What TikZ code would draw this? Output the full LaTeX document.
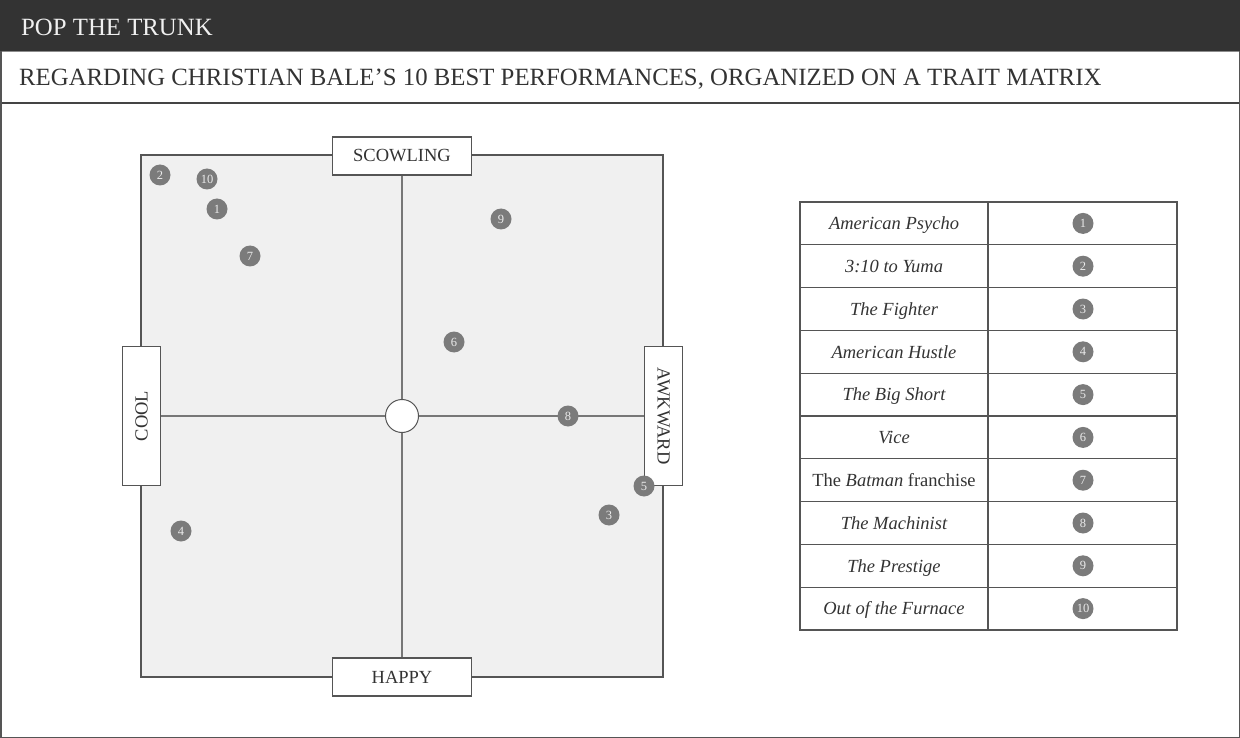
\documentclass[tikz,border=0pt]{standalone}
\usepackage{fontspec}
\setmainfont{Liberation Serif}
\definecolor{bar}{HTML}{333333}
\definecolor{ink}{HTML}{333333}
\definecolor{edge}{HTML}{555555}
\definecolor{axis}{HTML}{777777}
\definecolor{dotc}{HTML}{7B7B7B}
\definecolor{panel}{HTML}{F0F0F0}
\begin{document}
\begin{tikzpicture}[x=1pt,y=-1pt,
  lbl/.style={draw=edge, line width=1.3pt, fill=white, minimum width=139pt, minimum height=38pt, inner sep=0pt, font=\fontsize{18.5}{20}\selectfont, text=ink},
  dot/.style={circle, fill=dotc, minimum size=21pt, inner sep=0pt, text=white!92!black, font=\fontsize{12.5}{12.5}\selectfont},
  cell/.style={font=\fontsize{18.5}{20}\selectfont\itshape, text=ink, inner sep=0pt, anchor=base},
  ax/.style={draw=axis, line width=1.1pt},
  grid/.style={draw=edge, line width=1.2pt}]
\useasboundingbox (0,0) rectangle (1240,738);
% header
\fill[bar] (0,0) rectangle (1240,51);
\draw[white!55!black, line width=1pt] (0,51.5) -- (1240,51.5);
\draw[edge!80!black, line width=2pt] (0,103) -- (1240,103);
\draw[edge, line width=1.5pt] (0.75,51) -- (0.75,737.25) -- (1239.25,737.25) -- (1239.25,51);
\node[anchor=base west, text=white!94!black, font=\fontsize{24.8}{25}\selectfont, inner sep=0pt] (title) at (21,35.5) {POP THE TRUNK};
\node[anchor=base west, text=ink, font=\fontsize{24.8}{25}\selectfont, inner sep=0pt] (sub) at (19,86) {REGARDING CHRISTIAN BALE’S 10 BEST PERFORMANCES, ORGANIZED ON A TRAIT MATRIX};
% matrix
\draw[edge, fill=panel, line width=1.5pt] (141,155) rectangle (663,677);
\node[circle, draw=edge, fill=white, minimum size=33pt, inner sep=0pt, line width=1pt] (ctr) at (402,416) {};
\node[lbl] (scow) at (402,156) {SCOWLING};
\node[lbl] (happy) at (402,677) {HAPPY};
\node[lbl, rotate=90] (cool) at (141.5,416) {COOL};
\node[lbl, rotate=-90] (awk) at (663.5,416) {AWKWARD};
\draw[ax] (scow) -- (ctr);
\draw[ax] (ctr) -- (happy);
\draw[ax] (cool) -- (ctr);
\draw[ax] (ctr) -- (awk);
% dots
\node[dot] (d2) at (160,175) {2};
\node[dot] (d10) at (207,179) {10};
\node[dot] (d1) at (217,209) {1};
\node[dot] (d7) at (250,256) {7};
\node[dot] (d9) at (501,219) {9};
\node[dot] (d6) at (454,342) {6};
\node[dot] (d8) at (568,416) {8};
\node[dot] (d5) at (644,486) {5};
\node[dot] (d3) at (609,515) {3};
\node[dot] (d4) at (181,531) {4};
% table
\draw[grid] (800,202) rectangle (1177,630);
\draw[grid] (988,202) -- (988,630);
\foreach \i in {1,...,9} { \draw[grid] (800,202+42.8*\i) -- (1177,202+42.8*\i); }
\foreach \i/\t in {1/American Psycho, 2/3:10 to Yuma, 3/The Fighter, 4/American Hustle, 5/The Big Short, 6/Vice, 7/{\upshape The \textit{Batman} franchise}, 8/The Machinist, 9/The Prestige, 10/Out of the Furnace} {
  \node[cell] (r\i) at (894,202+42.8*\i-21.4+6.3) {\t};
  \node[dot] (t\i) at (1083,202+42.8*\i-21.4) {\i};
}
\end{tikzpicture}
\end{document}
